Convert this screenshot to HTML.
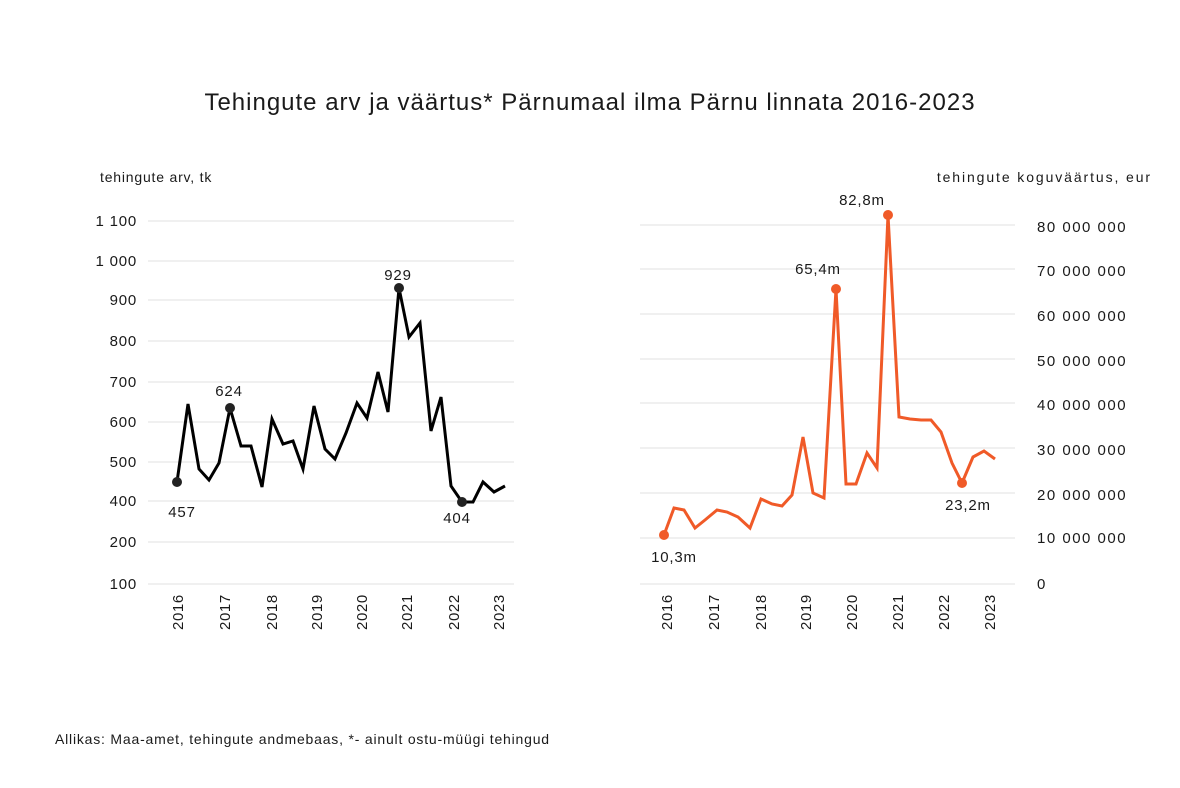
<!DOCTYPE html>
<html><head><meta charset="utf-8"><style>body{margin:0;background:#fff}svg{display:block;font-family:"Liberation Sans",sans-serif}</style></head><body>
<svg width="1180" height="788" viewBox="0 0 1180 788">
<rect width="1180" height="788" fill="#fff"/>
<text x="590" y="110" text-anchor="middle" font-size="24" letter-spacing="1" fill="#1a1a1a">Tehingute arv ja väärtus* Pärnumaal ilma Pärnu linnata 2016-2023</text>
<g letter-spacing="0.8">
<text x="100" y="182" font-size="14" fill="#1a1a1a">tehingute arv, tk</text>
<text x="1152" y="182" text-anchor="end" font-size="14" letter-spacing="1.9" fill="#1a1a1a">tehingute koguväärtus, eur</text>
<text x="55" y="744" font-size="14" fill="#1a1a1a">Allikas: Maa-amet, tehingute andmebaas, *- ainult ostu-müügi tehingud</text>
</g>
<g stroke="#e2e2e2" stroke-width="1">
<line x1="148" x2="514" y1="221" y2="221"/><line x1="148" x2="514" y1="261" y2="261"/><line x1="148" x2="514" y1="300" y2="300"/><line x1="148" x2="514" y1="341" y2="341"/><line x1="148" x2="514" y1="382" y2="382"/><line x1="148" x2="514" y1="422" y2="422"/><line x1="148" x2="514" y1="462" y2="462"/><line x1="148" x2="514" y1="501" y2="501"/><line x1="148" x2="514" y1="542" y2="542"/><line x1="148" x2="514" y1="584" y2="584"/>
<line x1="640" x2="1015" y1="225" y2="225"/><line x1="640" x2="1015" y1="269" y2="269"/><line x1="640" x2="1015" y1="314" y2="314"/><line x1="640" x2="1015" y1="359" y2="359"/><line x1="640" x2="1015" y1="403" y2="403"/><line x1="640" x2="1015" y1="448" y2="448"/><line x1="640" x2="1015" y1="493" y2="493"/><line x1="640" x2="1015" y1="538" y2="538"/><line x1="640" x2="1015" y1="584" y2="584"/>
</g>
<g font-size="15" fill="#1a1a1a" text-anchor="end" letter-spacing="0.8">
<text x="137" y="226">1 100</text><text x="137" y="266">1 000</text><text x="137" y="305">900</text><text x="137" y="346">800</text><text x="137" y="387">700</text><text x="137" y="427">600</text><text x="137" y="467">500</text><text x="137" y="506">400</text><text x="137" y="547">200</text><text x="137" y="589">100</text>
</g>
<g font-size="15" fill="#1a1a1a" text-anchor="start" letter-spacing="1.5">
<text x="1037" y="232">80 000 000</text><text x="1037" y="276">70 000 000</text><text x="1037" y="321">60 000 000</text><text x="1037" y="366">50 000 000</text><text x="1037" y="410">40 000 000</text><text x="1037" y="455">30 000 000</text><text x="1037" y="500">20 000 000</text><text x="1037" y="543">10 000 000</text><text x="1037" y="589">0</text>
</g>
<g font-size="15" fill="#1a1a1a" letter-spacing="0.6">
<text transform="translate(183,630) rotate(-90)">2016</text><text transform="translate(230,630) rotate(-90)">2017</text><text transform="translate(277,630) rotate(-90)">2018</text><text transform="translate(322,630) rotate(-90)">2019</text><text transform="translate(367,630) rotate(-90)">2020</text><text transform="translate(412,630) rotate(-90)">2021</text><text transform="translate(459,630) rotate(-90)">2022</text><text transform="translate(504,630) rotate(-90)">2023</text>
<text transform="translate(672,630) rotate(-90)">2016</text><text transform="translate(719,630) rotate(-90)">2017</text><text transform="translate(766,630) rotate(-90)">2018</text><text transform="translate(811,630) rotate(-90)">2019</text><text transform="translate(857,630) rotate(-90)">2020</text><text transform="translate(903,630) rotate(-90)">2021</text><text transform="translate(949,630) rotate(-90)">2022</text><text transform="translate(995,630) rotate(-90)">2023</text>
</g>
<polyline fill="none" stroke="#000" stroke-width="3" stroke-linejoin="miter" points="177,482 188,404 199,469 209,480 219,463 230,408 241,446 251,446 262,487 272,419 283,444 293,441 303,469 314,406 325,449 335,459 346,433 357,403 367,418 378,372 388,412 399,288 409,337 420,323 431,431 441,397 451,486 462,502 473,502 483,482 494,492 505,486"/>
<g fill="#222"><circle cx="177" cy="482" r="5"/><circle cx="230" cy="408" r="5"/><circle cx="399" cy="288" r="5"/><circle cx="462" cy="502" r="5"/></g>
<g font-size="15" fill="#1a1a1a" text-anchor="middle" letter-spacing="0.8"><text x="182" y="517">457</text><text x="229" y="396">624</text><text x="398" y="280">929</text><text x="457" y="523">404</text></g>
<polyline fill="none" stroke="#f05a28" stroke-width="3" points="664,535 674,508 684,510 695,528 705,520 717,510 727,512 738,517 750,528 761,499 772,504 782,506 792,495 803,437 813,493 824,498 836,289 846,484 856,484 867,453 877,468 888,215 899,417 910,419 921,420 931,420 941,432 952,463 962,483 973,457 984,451 995,459"/>
<g fill="#f05a28"><circle cx="664" cy="535" r="5"/><circle cx="836" cy="289" r="5"/><circle cx="888" cy="215" r="5"/><circle cx="962" cy="483" r="5"/></g>
<g font-size="15" fill="#1a1a1a" text-anchor="middle" letter-spacing="0.8"><text x="674" y="562">10,3m</text><text x="818" y="274">65,4m</text><text x="862" y="205">82,8m</text><text x="968" y="510">23,2m</text></g>
</svg>
</body></html>
